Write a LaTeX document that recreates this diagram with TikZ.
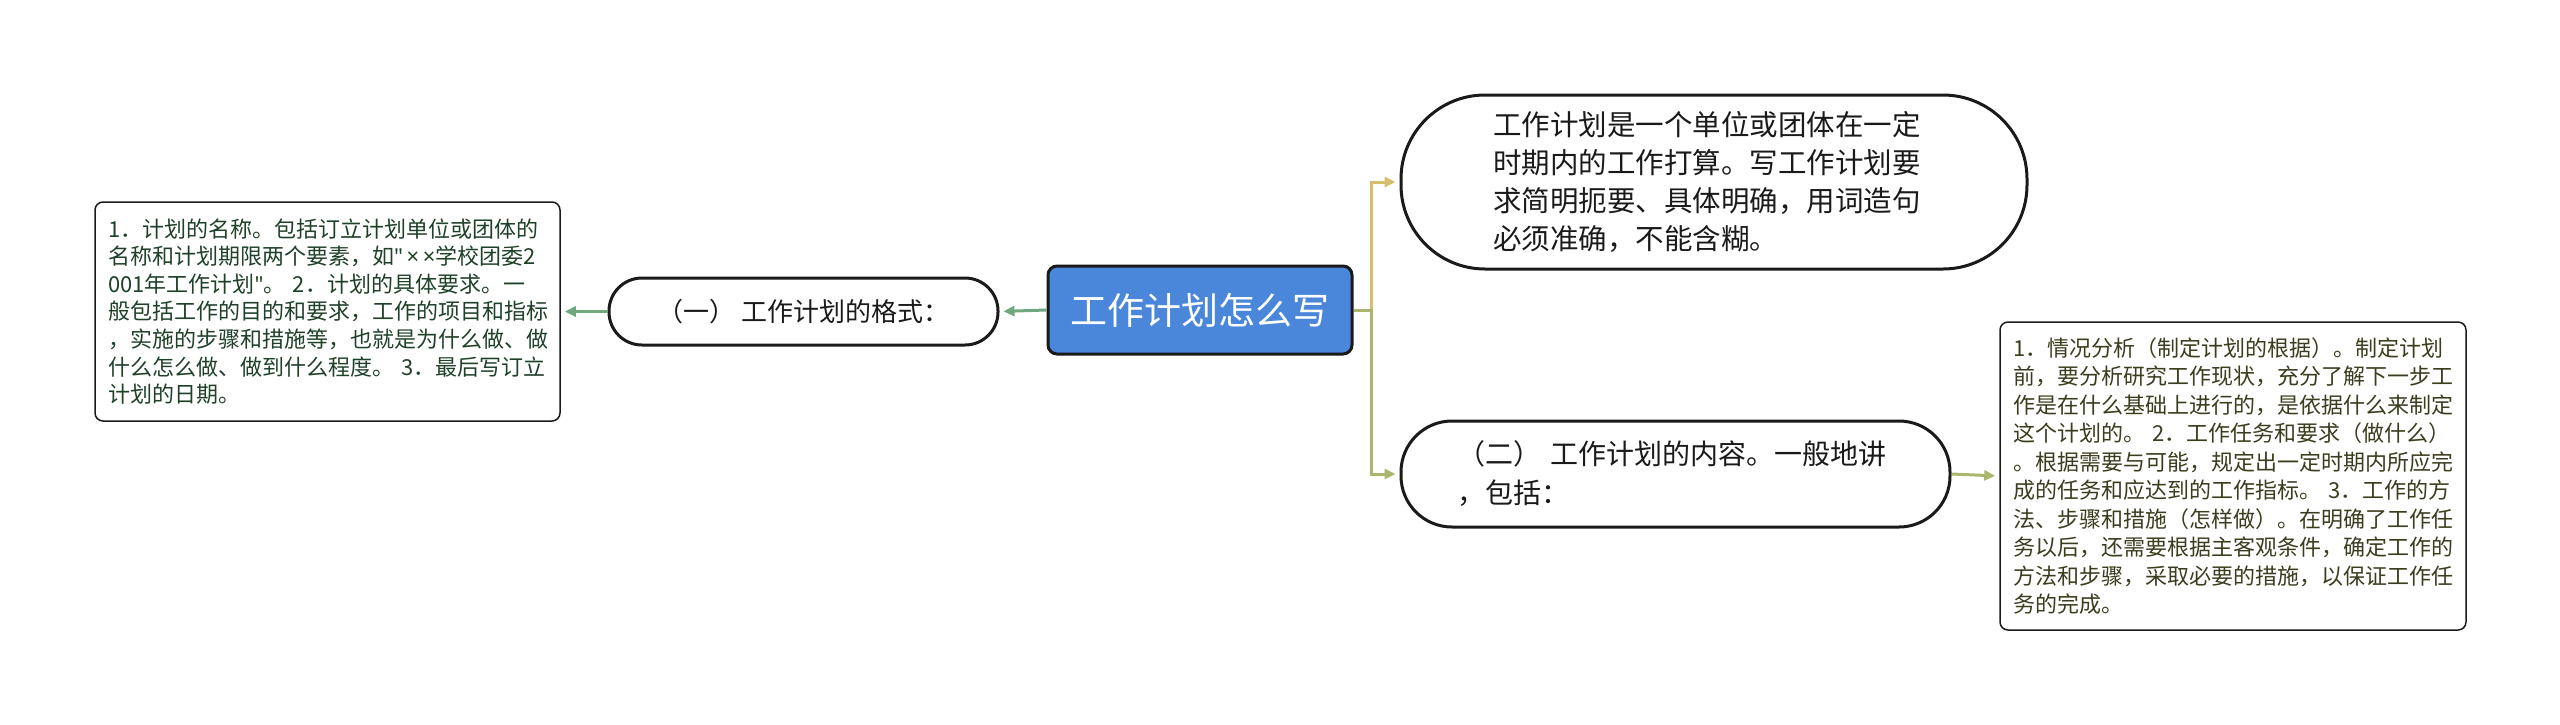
\documentclass[tikz,border=0pt]{standalone}
\usepackage{fontspec}
\setmainfont{Noto Sans CJK SC}
\newfontfamily\latinfont{Noto Sans}
\usetikzlibrary{positioning,arrows.meta}
\definecolor{ink}{HTML}{1A1A1A}
\definecolor{topicblue}{HTML}{4A86DA}
\definecolor{leafgreen}{HTML}{1F4128}
\definecolor{leafolive}{HTML}{3C3C1E}
\definecolor{linegreen}{HTML}{6FA87F}
\definecolor{linegold}{HTML}{D6BF6C}
\definecolor{lineolive}{HTML}{AAB66C}

\begin{document}
\begin{tikzpicture}[
  x=1pt, y=-1pt,
  topic/.style = {draw=ink, line width=3pt, fill=topicblue, text=white, rounded corners=9pt,
                  font=\fontsize{37pt}{44pt}\selectfont, minimum width=304pt, minimum height=88pt, inner sep=0pt},
  pill/.style  = {draw=ink, line width=3pt, fill=white, text=ink, align=left},
  leaf/.style  = {draw=ink, line width=1.5pt, fill=white, rounded corners=8pt, align=left,
                  font=\fontsize{22pt}{27.6pt}\selectfont, inner xsep=13pt, inner ysep=0pt},
  arr/.style   = {-{Triangle[length=11pt,width=10pt]}, line width=3pt, shorten >=4pt},
]
\useasboundingbox (0,0) rectangle (2560,724);

% ---------- centre ----------
\node[topic] (topic) at (1200,310) {工作计划怎么写};

% ---------- left branch ----------
\node[pill, rounded corners=33pt, minimum width=389pt, minimum height=67pt,
      font=\fontsize{26pt}{32pt}\selectfont] (fmt) at (803.5,311.5)
  {（一） 工作计划的格式：};
\node[leaf, text=leafgreen, text width=439pt, minimum width=465pt, minimum height=219pt]
  (fmtleaf) at (327.5,311.5)
  {1．计划的名称。包括订立计划单位或团体的\\
   名称和计划期限两个要素，如{\latinfont\char"22\,×\,×}学校团委2\\
   001年工作计划{\latinfont\char"22}。 2．计划的具体要求。一\\
   般包括工作的目的和要求，工作的项目和指标\\
   ，实施的步骤和措施等，也就是为什么做、做\\
   什么怎么做、做到什么程度。 3．最后写订立\\
   计划的日期。};

% ---------- right branches ----------
\node[pill, rounded corners=84pt, minimum width=626pt, minimum height=174pt,
      text width=442pt, inner xsep=92pt, font=\fontsize{28.5pt}{38pt}\selectfont]
  (def) at (1714,182)
  {工作计划是一个单位或团体在一定\\
   时期内的工作打算。写工作计划要\\
   求简明扼要、具体明确，用词造句\\
   必须准确，不能含糊。};
\node[pill, rounded corners=51pt, minimum width=549pt, minimum height=106pt,
      text width=437pt, inner xsep=56pt, font=\fontsize{28pt}{39pt}\selectfont]
  (cont) at (1675.5,474)
  {（二） 工作计划的内容。一般地讲\\
   ，包括：};
\node[leaf, text=leafolive, text width=440pt, minimum width=466pt, minimum height=308pt,
      font=\fontsize{22pt}{28.5pt}\selectfont]
  (contleaf) at (2233,476)
  {1．情况分析（制定计划的根据）。制定计划\\
   前，要分析研究工作现状，充分了解下一步工\\
   作是在什么基础上进行的，是依据什么来制定\\
   这个计划的。 2．工作任务和要求（做什么）\\
   。根据需要与可能，规定出一定时期内所应完\\
   成的任务和应达到的工作指标。 3．工作的方\\
   法、步骤和措施（怎样做）。在明确了工作任\\
   务以后，还需要根据主客观条件，确定工作的\\
   方法和步骤，采取必要的措施，以保证工作任\\
   务的完成。};

% ---------- connectors ----------
\coordinate (split) at ([xshift=18pt]topic.east);
\draw[arr, draw=linegreen] (topic.west) -- (fmt.east);
\draw[arr, draw=linegreen] (fmt.west) -- (fmtleaf.east);
\draw[arr, draw=linegold] (split) |- (def.west);
\draw[arr, draw=lineolive] (topic.east) -- (split) |- (cont.west);
\draw[arr, draw=lineolive] (cont.east) -- (contleaf.west);

\end{tikzpicture}
\end{document}
